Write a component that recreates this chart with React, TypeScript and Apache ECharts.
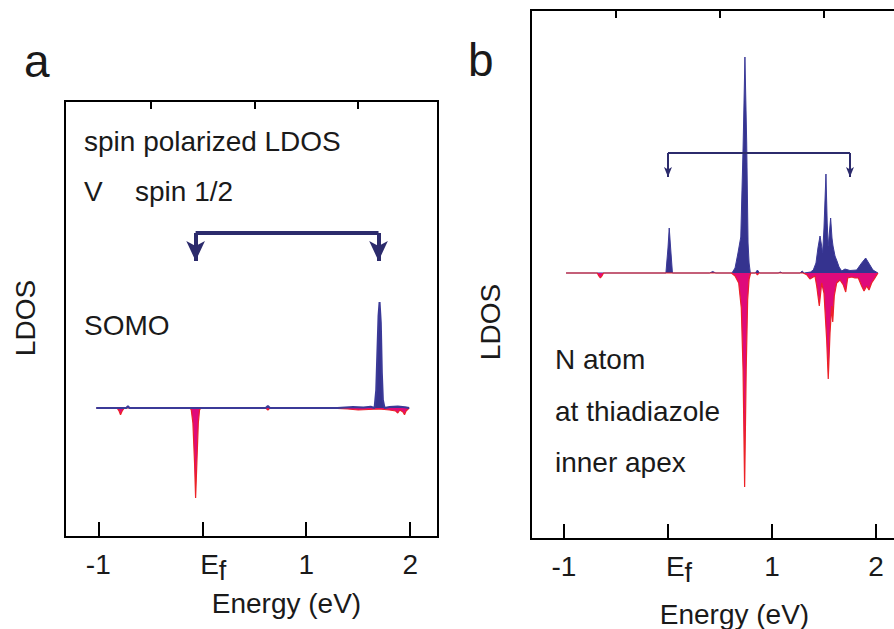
import React, { useEffect, useRef } from 'react';
import * as echarts from 'echarts';

// ---------- axis ticks ----------
const majorTicks = [-1, 0, 1, 2];
const minorTicks = [-0.5, 0.5, 1.5];
const tickLabels = ['-1', 'Ef', '1', '2'];

// ---------- panel a : V, spin 1/2 ----------
const aUpE = [-1.02, -0.8, -0.73, -0.715, -0.7, -0.4, 0.0, 0.3, 0.61, 0.631, 0.65, 1.0, 1.3, 1.45, 1.55, 1.62, 1.657, 1.673, 1.683, 1.695, 1.705, 1.717, 1.727, 1.737, 1.753, 1.8, 1.88, 1.95, 1.99];
const aUpV = [0, 0, 0, 0.017, 0, 0, 0, 0, 0, 0.02, 0, 0, 0, 0.01, 0.005, 0.012, 0, 0.18, 0.52, 0.92, 1.06, 0.85, 0.35, 0.08, 0, 0.01, 0.015, 0.008, 0];
const aDnE = [-1.02, -0.82, -0.8, -0.786, -0.77, -0.75, -0.4, -0.12, -0.106, -0.09, -0.074, -0.064, -0.052, -0.038, -0.026, -0.01, 0.3, 0.61, 0.631, 0.65, 1.2, 1.4, 1.5, 1.6, 1.7, 1.8, 1.86, 1.88, 1.9, 1.93, 1.945, 1.96, 1.99];
const aDnV = [0, 0, -0.03, -0.067, -0.03, 0, 0, 0, -0.017, -0.15, -0.55, -0.9, -0.55, -0.15, -0.017, 0, 0, 0, -0.02, 0, 0, -0.01, -0.02, -0.015, -0.01, -0.02, -0.03, -0.05, -0.02, -0.04, -0.067, -0.03, 0];

// ---------- panel b : N atom ----------
const bUpE = [-0.98, -0.7, -0.02, 0.0, 0.012, 0.029, 0.043, 0.4, 0.43, 0.46, 0.615, 0.645, 0.673, 0.7, 0.722, 0.74, 0.757, 0.77, 0.78, 0.792, 0.84, 0.86, 0.88, 1.06, 1.08, 1.1, 1.27, 1.29, 1.31, 1.37, 1.397, 1.423, 1.442, 1.462, 1.476, 1.487, 1.5, 1.519, 1.531, 1.541, 1.552, 1.564, 1.577, 1.587, 1.606, 1.625, 1.645, 1.67, 1.702, 1.75, 1.814, 1.862, 1.901, 1.942, 1.971, 2.019];
const bUpV = [0, 0, 0, 0.25, 0.45, 0.2, 0, 0, 0.015, 0, 0, 0.05, 0.2, 0.36, 1.25, 2.16, 1.3, 0.3, 0.1, 0, 0, 0.03, 0, 0, 0.01, 0, 0, 0.02, 0, 0.01, 0.03, 0.1, 0.25, 0.37, 0.28, 0.2, 0.45, 0.99, 0.5, 0.27, 0.4, 0.55, 0.35, 0.27, 0.17, 0.12, 0.06, 0.02, 0.04, 0.025, 0.03, 0.1, 0.15, 0.08, 0.03, 0];
const bDnE = [-0.98, -0.68, -0.665, -0.65, -0.635, -0.62, 0.61, 0.645, 0.68, 0.705, 0.722, 0.737, 0.752, 0.766, 0.78, 0.795, 0.845, 0.86, 0.875, 1.3, 1.334, 1.365, 1.413, 1.43, 1.455, 1.478, 1.5, 1.526, 1.541, 1.558, 1.574, 1.584, 1.599, 1.622, 1.654, 1.686, 1.709, 1.728, 1.766, 1.798, 1.83, 1.862, 1.885, 1.911, 1.933, 1.958, 1.99, 2.019];
const bDnV = [0, 0, -0.03, -0.05, -0.03, 0, 0, -0.03, -0.1, -0.35, -0.97, -2.14, -0.97, -0.27, -0.06, 0, 0, -0.02, 0, 0, -0.017, -0.06, -0.03, -0.13, -0.33, -0.1, -0.2, -0.67, -1.06, -0.6, -0.33, -0.49, -0.23, -0.1, -0.07, -0.12, -0.19, -0.05, -0.04, -0.05, -0.05, -0.13, -0.18, -0.13, -0.17, -0.1, -0.05, 0];

// ---------- bracket annotations (energies) ----------
const aBracketE = [-0.064, 1.695];
const bBracketE = [0.0, 1.75];

const pairs = (e: number[], v: number[]) => e.map((x, i) => [x, v[i]]);

const FONT = 'Liberation Sans, Arial, Helvetica, sans-serif';
const TXT = '#1a1a1a';
const BLUE_FILL = '#35338f';
const BLUE_LINE = '#3b3a98';
const RED_FILL = '#df0a7b';
const RED_LINE = '#ec2227';
const NAVY = '#2c2b6c';

function labelFmt(v: number) {
  const i = majorTicks.indexOf(v);
  const t = i >= 0 ? tickLabels[i] : String(v);
  return t === 'Ef' ? '{e|E}{f|f}' : t;
}

function xAxes(grid: number, min: number, max: number, nameGap: number, namePad: number) {
  return [
    {
      gridIndex: grid, type: 'value', min, max,
      axisLine: { show: false, onZero: false }, splitLine: { show: false },
      axisTick: { show: true, inside: true, length: 15, lineStyle: { color: '#000', width: 2 }, customValues: majorTicks },
      axisLabel: {
        customValues: majorTicks, formatter: labelFmt, margin: 13,
        fontSize: 28, fontFamily: FONT, color: TXT,
        rich: {
          e: { fontSize: 28, fontFamily: FONT, color: TXT, lineHeight: 28, verticalAlign: 'top', padding: [0, 0, 0, 22] },
          f: { fontSize: 27, fontFamily: FONT, color: TXT, lineHeight: 28, verticalAlign: 'top', padding: [7, 0, 0, 0] },
        },
      },
      name: 'Energy (eV)', nameLocation: 'middle', nameGap,
      nameTextStyle: { fontSize: 28, fontFamily: FONT, color: TXT, padding: [0, 0, 0, namePad] },
    },
    {
      gridIndex: grid, type: 'value', min, max,
      axisLine: { show: false, onZero: false }, splitLine: { show: false }, axisLabel: { show: false },
      axisTick: { show: true, inside: true, length: 8, lineStyle: { color: '#000', width: 2 }, customValues: minorTicks },
    },
  ];
}

function yAxis(grid: number, min: number, max: number) {
  return {
    gridIndex: grid, type: 'value', min, max,
    axisLine: { show: false, onZero: false }, axisTick: { show: false }, axisLabel: { show: false }, splitLine: { show: false },
  };
}

function bracket(e: number[], yTop: number, yTip: number, width: number, size: number[]) {
  return {
    silent: true,
    symbol: ['none', 'none'],
    label: { show: false },
    lineStyle: { color: NAVY, width, type: 'solid' },
    emphasis: { disabled: true },
    data: [
      [{ coord: [e[0], yTop], symbol: 'none' }, { coord: [e[0], yTip], symbol: 'arrow', symbolSize: size }],
      [{ coord: [e[0], yTop], symbol: 'none' }, { coord: [e[1], yTop], symbol: 'none' }],
      [{ coord: [e[1], yTop], symbol: 'none' }, { coord: [e[1], yTip], symbol: 'arrow', symbolSize: size }],
    ],
  };
}

function areaSeries(name: string, data: number[][], xi: number, yi: number, fill: string, line: string, lw: number, z: number, markLine?: any) {
  const s: any = {
    name, type: 'line', data, xAxisIndex: xi, yAxisIndex: yi,
    showSymbol: false, symbol: 'none', z,
    lineStyle: { color: line, width: lw },
    areaStyle: { color: fill, opacity: 1 },
    itemStyle: { color: line },
  };
  if (markLine) s.markLine = markLine;
  return s;
}

function txt(text: string, x: number, y: number, size: number, align = 'left', rotation = 0) {
  return {
    type: 'text', x, y, rotation, z: 10,
    style: { text, fontSize: size, fontFamily: FONT, fill: TXT, align, verticalAlign: 'middle', textAlign: align, textVerticalAlign: 'middle' },
  };
}

const option: any = {
  animation: false,
  backgroundColor: '#ffffff',
  grid: [
    { left: 65, top: 101, width: 373, height: 436, show: true, borderColor: '#000', borderWidth: 2, backgroundColor: 'transparent', outerBoundsMode: 'none', containLabel: false },
    { left: 531, top: 10, width: 374, height: 529, show: true, borderColor: '#000', borderWidth: 2, backgroundColor: 'transparent', outerBoundsMode: 'none', containLabel: false },
  ],
  xAxis: [
    ...xAxes(0, -1.32, 2.267, 52, 70),
    ...xAxes(1, -1.317, 2.279, 61, 33),
  ],
  yAxis: [yAxis(0, -1.29, 3.07), yAxis(1, -2.66, 2.63)],
  series: [
    areaSeries('a spin down', pairs(aDnE, aDnV), 0, 0, RED_FILL, RED_LINE, 1.2, 2),
    areaSeries('a spin up', pairs(aUpE, aUpV), 0, 0, BLUE_FILL, BLUE_LINE, 2, 3, bracket(aBracketE, 1.75, 1.47, 4, [14, 20])),
    areaSeries('b spin up', pairs(bUpE, bUpV), 2, 1, BLUE_FILL, BLUE_LINE, 1, 2, bracket(bBracketE, 1.2, 0.96, 2, [6, 10])),
    areaSeries('b spin down', pairs(bDnE, bDnV), 2, 1, RED_FILL, RED_LINE, 1.2, 3),
  ],
  graphic: [
    txt('a', 24, 61, 46),
    txt('b', 468, 60, 46),
    txt('LDOS', 25, 318, 28, 'center', Math.PI / 2),
    txt('LDOS', 490, 322, 28, 'center', Math.PI / 2),
    txt('spin polarized LDOS', 84, 141, 28),
    txt('V', 84, 191, 28),
    txt('spin 1/2', 135, 191, 28),
    txt('SOMO', 84, 325, 28),
    txt('N atom', 555, 359, 28),
    txt('at thiadiazole', 555, 411, 28),
    txt('inner apex', 555, 462, 28),
  ],
};

export default function App() {
  const ref = useRef<HTMLDivElement>(null);
  useEffect(() => {
    const chart = echarts.init(ref.current!, null, { renderer: 'svg' });
    chart.setOption(option);
    return () => chart.dispose();
  }, []);
  return <div ref={ref} style={{ position: 'fixed', left: 0, top: 0, width: 894, height: 629 }} />;
}
